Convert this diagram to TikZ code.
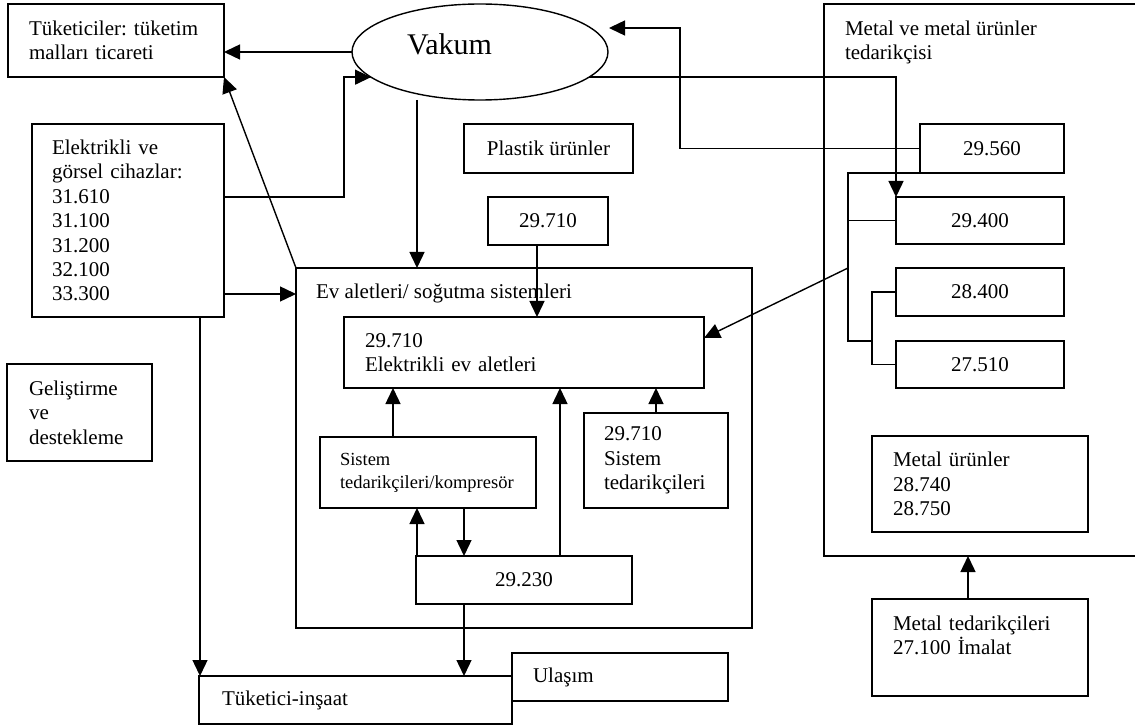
\documentclass[tikz,border=0pt]{standalone}
\usepackage{fontspec}
\setmainfont{Liberation Serif}
\frenchspacing
\usetikzlibrary{arrows.meta,shapes.geometric,calc}
\begin{document}
\begin{tikzpicture}[x=1pt,y=-1pt,line width=1.4pt,
  every node/.style={inner sep=0pt,outer sep=0pt},
  mainfont/.style={font=\fontsize{21}{24.4}\selectfont\frenchspacing},
  box/.style={draw,rectangle,mainfont},
  lbox/.style={box,align=left,inner xsep=21pt},
  cbox/.style={box,align=center},
  arr/.style={-{Triangle[length=16pt,width=15pt]}}]
\useasboundingbox (0,0) rectangle (1135,727);

% top-left
\node[lbox,text width=174pt,minimum height=73pt] (tuk) at (116,40.5) {Tüketiciler: tüketim\\malları ticareti};
\node[draw,ellipse,minimum width=256pt,minimum height=96pt] (vakum) at (480,52) {};
\node[anchor=base west,font=\fontsize{30}{36}\selectfont] (vakumt) at (407,55) {Vakum};
\node[lbox,inner xsep=20pt,text width=152pt,minimum height=193pt] (elek) at (128,220.5)
  {Elektrikli ve\\görsel cihazlar:\\31.610\\31.100\\31.200\\32.100\\33.300};
\node[lbox,inner xsep=22pt,text width=101pt,minimum height=97pt] (gel) at (79.5,412.5)
  {Geliştirme\\ve\\destekleme};

% centre
\node[cbox,minimum width=169pt,minimum height=49pt] (plastik) at (548.5,148.5) {Plastik ürünler};
\node[cbox,minimum width=120pt,minimum height=48pt] (ta) at (548,221) {29.710};
\node[box,minimum width=456pt,minimum height=360pt] (ev) at (524,448) {};
\node[mainfont,anchor=base west] (evt) at (316,299) {Ev aletleri/ soğutma sistemleri};
\node[lbox,text width=318pt,minimum height=71pt] (inner) at (524,352.5) {29.710\\Elektrikli ev aletleri};
\node[lbox,inner xsep=20pt,text width=176pt,minimum height=71pt,font=\fontsize{18.5}{23}\selectfont] (sis) at (428,472.5)
  {Sistem\\tedarikçileri/kompresör};
\node[lbox,inner xsep=20pt,text width=104pt,minimum height=95pt] (sis2) at (656,460.5)
  {29.710\\Sistem\\tedarikçileri};
\node[cbox,minimum width=216pt,minimum height=48pt] (tb) at (524,580) {29.230};
\node[lbox,inner xsep=23pt,text width=267pt,minimum height=48pt] (ins) at (355.5,700) {Tüketici-inşaat};
\node[lbox,text width=174pt,minimum height=48pt] (ula) at (620,677) {Ulaşım};

% right
\coordinate (mtl) at (824,4);
\coordinate (mbl) at (824,556);
\draw (1135,4) -- (mtl) -- (mbl) -- (1135,556);
\node[mainfont,anchor=north west,align=left] (mtitle) at (845,21) {Metal ve metal ürünler\\tedarikçisi};
\node[cbox,minimum width=144pt,minimum height=49pt] (t560) at (992,148.5) {29.560};
\node[cbox,minimum width=168pt,minimum height=47pt] (t400) at (980,220.5) {29.400};
\node[cbox,minimum width=168pt,minimum height=48pt] (t284) at (980,292) {28.400};
\node[cbox,minimum width=168pt,minimum height=47pt] (t275) at (980,364.5) {27.510};
\node[lbox,text width=174pt,minimum height=96pt] (mur) at (980,484) {Metal ürünler\\28.740\\28.750};
\node[lbox,text width=174pt,minimum height=97pt] (mted) at (980,647.5) {Metal tedarikçileri\\27.100 İmalat\\\mbox{}};
\coordinate (mb) at (968,556);
\coordinate (vk) at (609,28);

% connectors
\draw[arr] (vakum.west) -- (vakum.west -| tuk.east);
\draw[arr] (elek.east |- 0,197) -- ++(120,0) |- (vakum.193);
\draw[arr] (elek.east |- 0,294) -- (ev.west |- 0,294);
\draw[arr] (ev.north west) -- (tuk.south east);
\draw[arr] (vakum.south -| 417,0) -- (ev.north -| 417,0);
\draw[arr] (ta.south -| 537,0) -- (inner.north -| 537,0);
\draw[arr] (sis.north -| 393,0) -- (inner.south -| 393,0);
\draw[arr] (sis2.north) -- (inner.south -| sis2.north);
\draw[arr] (tb.north -| 417,0) -- (sis.south -| 417,0);
\draw[arr] (sis.south -| 464,0) -- (tb.north -| 464,0);
\draw[arr] (tb.north -| 560,0) -- (inner.south -| 560,0);
\draw[arr] (tb.south -| 464,0) -- (ins.north -| 464,0);
\draw[arr] (elek.south -| 200,0) -- (ins.north -| 200,0);
\draw[arr] (mted.north -| mb) -- (mb);
\draw[arr] (vakum.-13) -| (t400.north west);
\draw[arr] (t560.west) -- ++(-240,0) |- (vk);
\draw (t560.south west) -- ++(-72,0) coordinate (tr) -- ++(0,168) -- ++(24,0);
\draw (t400.west) -- (t400.west -| tr);
\draw (t284.west) -- ++(-24,0) |- (t275.west);
\draw[arr] (tr |- 0,268) -- (inner.east |- 0,338);
\end{tikzpicture}
\end{document}
